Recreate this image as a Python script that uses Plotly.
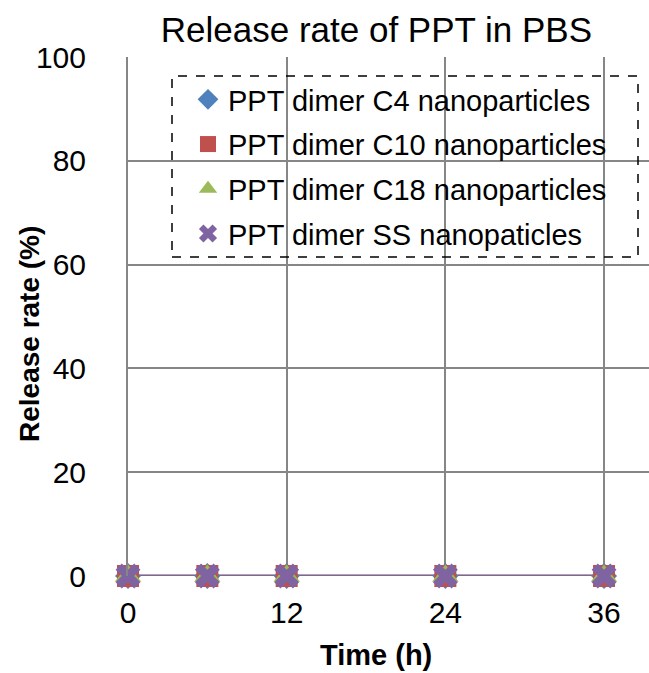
import plotly.graph_objects as go

time_h = [0, 6, 12, 24, 36]
c4 = [0, 0, 0, 0, 0]
c10 = [0, 0, 0, 0, 0]
c18 = [0, 0, 0, 0, 0]
ss = [0, 0, 0, 0, 0]
names = ["PPT dimer C4 nanoparticles", "PPT dimer C10 nanoparticles",
         "PPT dimer C18 nanoparticles", "PPT dimer SS nanopaticles"]
series = [c4, c10, c18, ss]
colors = ["#4F81BD", "#C0504D", "#9BBB59", "#8064A2"]
symbols = ["diamond", "square", "triangle-up", "x"]
sizes = [20, 22, 23, 22]
x_ticks = [0, 12, 24, 36]
y_ticks = [0, 20, 40, 60, 80, 100]

FONT = "Liberation Sans, Arial, sans-serif"
L, T, W, H = 128, 57, 521, 519

fig = go.Figure()
for i in range(4):
    fig.add_trace(go.Scatter(x=time_h, y=series[i], mode="lines",
                             line=dict(color=colors[i], width=2.5),
                             showlegend=False, cliponaxis=False, hoverinfo="skip"))
for i in range(4):
    fig.add_trace(go.Scatter(x=time_h, y=series[i], mode="markers", name=names[i],
                             legendgroup=str(i),
                             marker=dict(symbol=symbols[i], size=sizes[i], color=colors[i],
                                         line=dict(width=0)),
                             cliponaxis=False))

fig.update_layout(
    width=649, height=673,
    margin=dict(l=L, r=0, t=T, b=97),
    paper_bgcolor="white", plot_bgcolor="white",
    font=dict(family=FONT, color="black", size=30),
    title=dict(text="Release rate of PPT in PBS", x=0.58, xanchor="center",
               y=1 - 30/673, yanchor="middle", font=dict(size=35)),
    legend=dict(x=(188 - L)/W, y=(T + H - 74)/H, xanchor="left", yanchor="top",
                bgcolor="rgba(0,0,0,0)", font=dict(size=29),
                tracegroupgap=4, itemwidth=30),
    xaxis=dict(range=[0, 39.4], tickvals=x_ticks, showgrid=True,
               gridcolor="#868686", gridwidth=2, zeroline=False, showline=False,
               ticklabelstandoff=16),
    yaxis=dict(range=[0, 100], tickvals=y_ticks, showgrid=True,
               gridcolor="#868686", gridwidth=2, zeroline=False,
               showline=True, linecolor="#868686", linewidth=2,
               ticklabelstandoff=34),
    annotations=[
        dict(text="<b>Time (h)</b>", xref="paper", yref="paper",
             x=(376 - L)/W, y=(T + H - 655)/H, xanchor="center", yanchor="middle",
             showarrow=False, font=dict(size=29)),
        dict(text="<b>Release rate (%)</b>", xref="paper", yref="paper", textangle=-90,
             x=(29 - L)/W, y=(T + H - 334)/H, xanchor="center", yanchor="middle",
             showarrow=False, font=dict(size=28)),
    ],
    shapes=[dict(type="rect", xref="paper", yref="paper",
                 x0=(172 - L)/W, x1=(638 - L)/W,
                 y0=(T + H - 257)/H, y1=(T + H - 76)/H,
                 line=dict(color="black", width=1.5, dash="dash"))],
)
fig.write_html("out.html")
